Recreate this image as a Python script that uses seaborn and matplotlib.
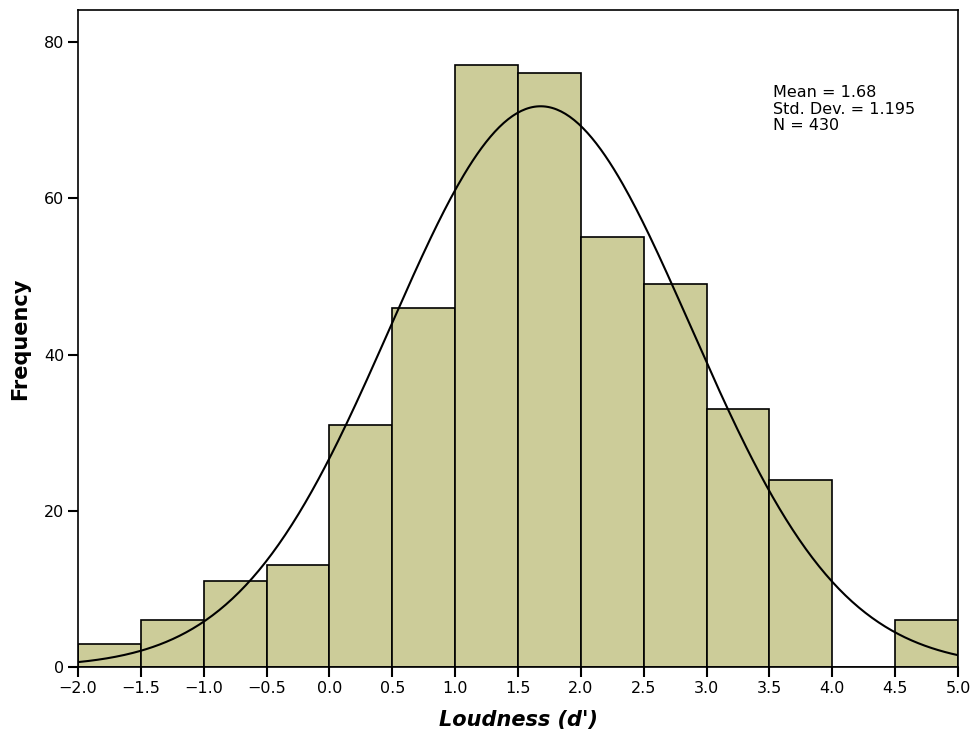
import numpy as np
import pandas as pd
import matplotlib
matplotlib.use("Agg")
import matplotlib.pyplot as plt
import seaborn as sns

# Data
bin_left = [-2.0, -1.5, -1.0, -0.5, 0.0, 0.5, 1.0, 1.5, 2.0, 2.5, 3.0, 3.5, 4.0, 4.5]
counts = [3, 6, 11, 13, 31, 46, 77, 76, 55, 49, 33, 24, 0, 6]
bin_width = 0.5
mean_val = 1.68
std_val = 1.195
n_val = 430
xticks = [-2.0, -1.5, -1.0, -0.5, 0.0, 0.5, 1.0, 1.5, 2.0, 2.5, 3.0, 3.5, 4.0, 4.5, 5.0]
yticks = [0, 20, 40, 60, 80]

sns.set_style("white")
plt.rcParams['font.family'] = ['DejaVu Sans']
plt.rcParams['text.color'] = 'black'
plt.rcParams['axes.labelcolor'] = 'black'
plt.rcParams['xtick.color'] = 'black'
plt.rcParams['ytick.color'] = 'black'

df = pd.DataFrame({"x": [b + bin_width / 2 for b in bin_left], "w": counts})
edges = list(bin_left) + [bin_left[-1] + bin_width]

fig = plt.figure(figsize=(9.79, 7.42), dpi=100)
ax = fig.add_axes([78 / 979, 75 / 742, 880 / 979, 657 / 742])

sns.histplot(data=df, x="x", weights="w", bins=edges, ax=ax,
             color="#cccc99", alpha=1.0, edgecolor="black", linewidth=1.2)

xs = np.linspace(-2.0, 5.0, 400)
ys = n_val * bin_width / (std_val * np.sqrt(2 * np.pi)) * np.exp(-0.5 * ((xs - mean_val) / std_val) ** 2)
sns.lineplot(x=xs, y=ys, ax=ax, color="black", linewidth=1.5)

ax.set_xlim(-2.0, 5.0)
ax.set_ylim(0, 84.1)
ax.set_xticks(xticks)
ax.set_xticklabels([f"{t:.1f}".replace("-", "\u2212") for t in xticks])
ax.set_yticks(yticks)
ax.tick_params(axis="both", direction="out", length=7, width=1.5, labelsize=11.5,
               bottom=True, left=True, colors="black", pad=3)
for s in ax.spines.values():
    s.set_color("black")
    s.set_linewidth(1.2)
    s.set_visible(True)

ax.set_xlabel("Loudness (d')", fontsize=15, fontweight="bold", fontstyle="italic", labelpad=10)
ax.set_ylabel("Frequency", fontsize=15, fontweight="bold", labelpad=10)

ax.text(0.79, 0.886, f"Mean = {mean_val:.2f}\nStd. Dev. = {std_val:.3f}\nN = {n_val}",
        transform=ax.transAxes, fontsize=11.5, va="top", ha="left", linespacing=1.15,
        color="black")

fig.savefig("out.png", dpi=100)
